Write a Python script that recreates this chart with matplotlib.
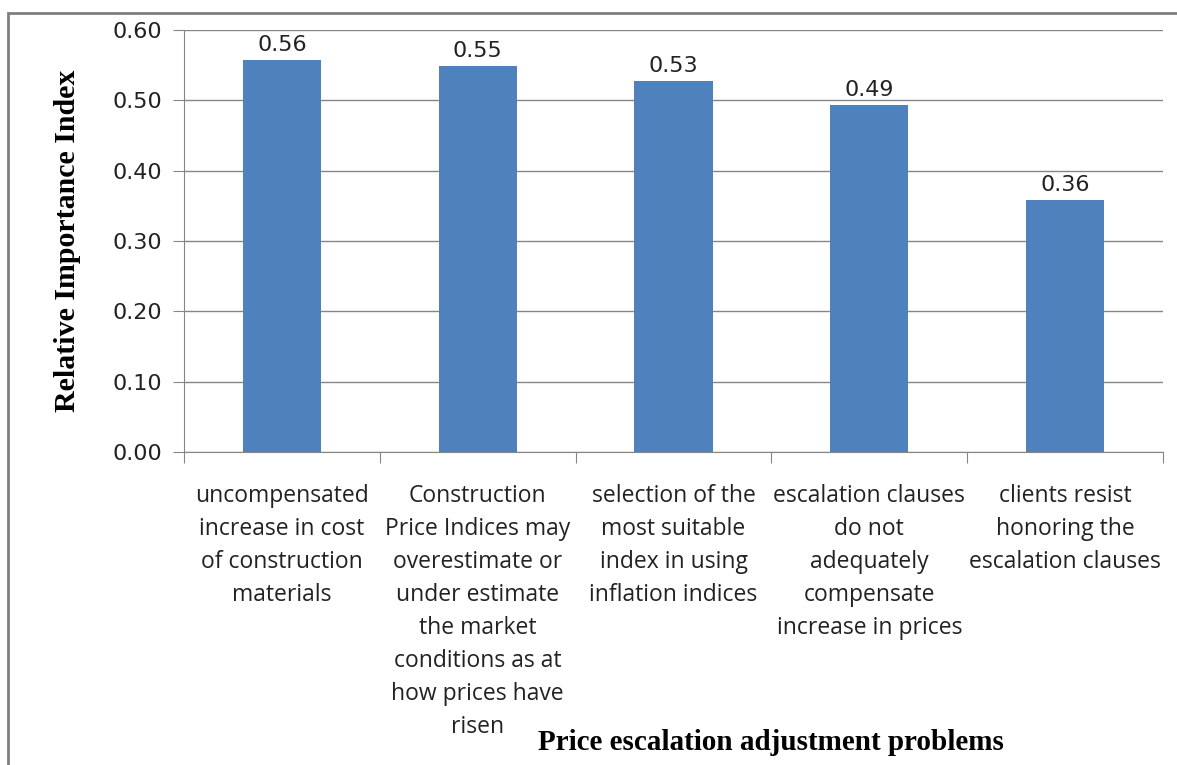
import matplotlib.pyplot as plt
import numpy as np
from matplotlib.patches import Rectangle

# Relative importance index of price escalation adjustment problems
categories = [
    "uncompensated\nincrease in cost\nof construction\nmaterials",
    "Construction\nPrice Indices may\noverestimate or\nunder estimate\nthe market\nconditions as at\nhow prices have\nrisen",
    "selection of the\nmost suitable\nindex in using\ninflation indices",
    "escalation clauses\ndo not\nadequately\ncompensate\nincrease in prices",
    "clients resist\nhonoring the\nescalation clauses",
]
rii = [0.557, 0.549, 0.527, 0.494, 0.359]
yticks = [0.0, 0.1, 0.2, 0.3, 0.4, 0.5, 0.6]

bar_color = "#4f81bd"
grid_color = "#868686"

fig = plt.figure(figsize=(11.77, 7.65), dpi=100)
ax = fig.add_axes([184 / 1177, 1 - 452 / 765, 979 / 1177, 422 / 765])

x = np.arange(len(categories))
ax.bar(x, rii, width=0.4, color=bar_color, zorder=3)
for xi, v in zip(x, rii):
    ax.text(xi, v + 0.007, f"{v:.2f}", ha="center", va="bottom",
            fontsize=16, family="DejaVu Sans", color="#222222")

ax.set_xlim(-0.5, len(categories) - 0.5)
ax.set_ylim(0, 0.6)
ax.set_yticks(yticks)
ax.set_yticklabels([f"{t:.2f}" for t in yticks], fontsize=16, family="DejaVu Sans",
                   color="#222222")
ax.yaxis.grid(True, color=grid_color, linewidth=1, zorder=0)

# category labels sit under the bars; ticks mark the category boundaries
ax.set_xticks(np.arange(-0.5, len(categories)))
ax.set_xticklabels([])
ax.tick_params(axis="x", direction="out", length=8, color=grid_color)
ax.tick_params(axis="y", direction="out", length=8, color=grid_color, pad=8)
for xi, lab in zip(x, categories):
    ax.text(xi, -0.045, lab, ha="center", va="top", fontsize=16.5,
            family="Open Sans", linespacing=1.5, color="#222222",
            clip_on=False)

for side in ["top", "right"]:
    ax.spines[side].set_visible(False)
for side in ["left", "bottom"]:
    ax.spines[side].set_color(grid_color)

ax.set_ylabel("Relative Importance Index", fontsize=21.5, fontweight="bold",
              family="Liberation Serif", labelpad=22)
fig.text(771 / 1177, 1 - 742 / 765, "Price escalation adjustment problems",
         ha="center", va="center", fontsize=21, fontweight="bold",
         family="Liberation Serif")

# outer chart border
fig.patches.append(Rectangle((8 / 1177, -0.02), 1.1, 1 - 13 / 765 + 0.02,
                             transform=fig.transFigure, fill=False,
                             edgecolor="#7f7f7f", linewidth=2))

fig.savefig("out.png", dpi=100)
